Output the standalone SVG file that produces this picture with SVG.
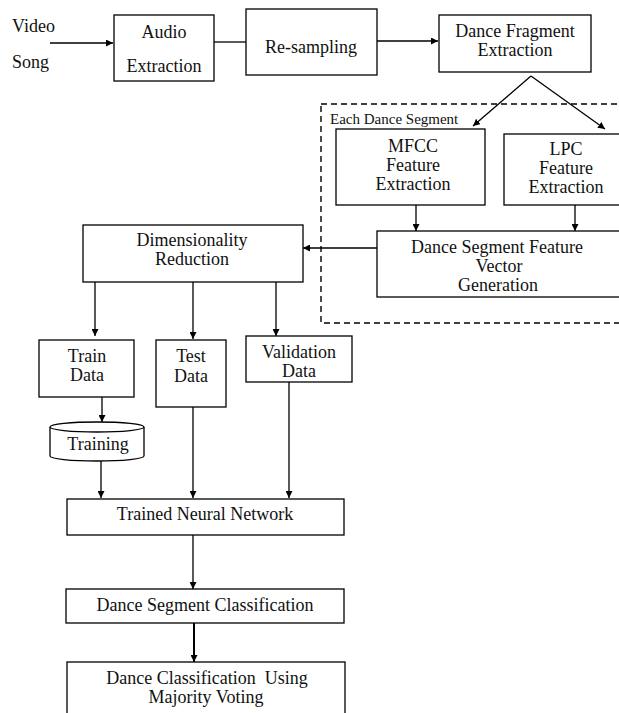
<svg xmlns="http://www.w3.org/2000/svg" width="619" height="713" viewBox="0 0 619 713">
  <defs>
    <marker id="ah" viewBox="0 0 10 10" refX="10" refY="5" markerWidth="7" markerHeight="7" markerUnits="userSpaceOnUse" orient="auto">
      <path d="M0,0 L10,5 L0,10 z" fill="#000"/>
    </marker>
    <style>
      .box { fill: #fff; stroke: #000; stroke-width: 1.3; }
      .t { font-family: "Liberation Serif", "Times New Roman", serif; font-size: 18px; fill: #111; text-anchor: middle; }
      .tl { font-family: "Liberation Serif", "Times New Roman", serif; font-size: 18px; fill: #111; }
      .small { font-family: "Liberation Serif", "Times New Roman", serif; font-size: 15px; fill: #111; }
      .c { fill: none; stroke: #000; stroke-width: 1.3; }
      .ca { fill: none; stroke: #000; stroke-width: 1.3; marker-end: url(#ah); }
    </style>
  </defs>
  <rect width="619" height="713" fill="#fff"/>

  <!-- dashed region: per-segment processing -->
  <g id="segment-region">
    <rect x="321" y="104" width="310" height="219" fill="none" stroke="#000" stroke-width="1.4" stroke-dasharray="6,4"/>
    <text class="small" x="330" y="124">Each Dance Segment</text>
  </g>

  <g id="connectors">
    <line class="ca" x1="50" y1="43" x2="113" y2="43"/>
    <line class="c" x1="214" y1="42" x2="246" y2="42"/>
    <line class="ca" x1="377" y1="41" x2="438" y2="41"/>
    <line class="ca" x1="531" y1="76" x2="473" y2="126"/>
    <line class="ca" x1="531" y1="76" x2="605" y2="129"/>
    <line class="ca" x1="416" y1="205" x2="416" y2="231"/>
    <line class="ca" x1="575" y1="205" x2="575" y2="231"/>
    <line class="ca" x1="400" y1="248" x2="303" y2="248"/>
    <line class="ca" x1="95" y1="282" x2="95" y2="336"/>
    <line class="ca" x1="193" y1="282" x2="193" y2="339"/>
    <line class="ca" x1="276" y1="282" x2="276" y2="336"/>
    <line class="ca" x1="102" y1="397" x2="102" y2="422"/>
    <line class="ca" x1="101" y1="461" x2="101" y2="498"/>
    <line class="ca" x1="193" y1="383" x2="193" y2="498"/>
    <line class="ca" x1="289" y1="382" x2="289" y2="498"/>
    <line class="ca" x1="193" y1="535" x2="193" y2="589"/>
    <line class="ca" x1="194" y1="623" x2="194" y2="662" style="stroke-width:2"/>
  </g>

  <g id="video-song">
    <text class="tl" x="12" y="32">Video</text>
    <text class="tl" x="12" y="68">Song</text>
  </g>

  <g id="audio-extraction">
    <rect class="box" x="114" y="15" width="100" height="66"/>
    <text class="t" x="164" y="38">Audio</text>
    <text class="t" x="164" y="72">Extraction</text>
  </g>

  <g id="re-sampling">
    <rect class="box" x="246" y="9" width="131" height="66"/>
    <text class="t" x="311" y="53">Re-sampling</text>
  </g>

  <g id="dance-fragment-extraction">
    <rect class="box" x="439" y="15" width="152" height="57"/>
    <text class="t" x="515" y="37">Dance Fragment</text>
    <text class="t" x="515" y="56">Extraction</text>
  </g>

  <g id="mfcc">
    <rect class="box" x="336" y="129" width="149" height="76"/>
    <text class="t" x="413" y="152">MFCC</text>
    <text class="t" x="413" y="171">Feature</text>
    <text class="t" x="413" y="190">Extraction</text>
  </g>

  <g id="lpc">
    <rect class="box" x="504" y="134" width="120" height="71"/>
    <text class="t" x="566" y="155">LPC</text>
    <text class="t" x="566" y="174">Feature</text>
    <text class="t" x="566" y="193">Extraction</text>
  </g>

  <g id="feature-vector">
    <rect class="box" x="377" y="231" width="245" height="66"/>
    <text class="t" x="497" y="253">Dance Segment Feature</text>
    <text class="t" x="499" y="272">Vector</text>
    <text class="t" x="498" y="291">Generation</text>
  </g>

  <g id="dimensionality-reduction">
    <rect class="box" x="83" y="225" width="220" height="57"/>
    <text class="t" x="192" y="246">Dimensionality</text>
    <text class="t" x="192" y="265">Reduction</text>
  </g>

  <g id="train-data">
    <rect class="box" x="39" y="340" width="95" height="57"/>
    <text class="t" x="87" y="362">Train</text>
    <text class="t" x="87" y="381">Data</text>
  </g>

  <g id="test-data">
    <rect class="box" x="156" y="340" width="70" height="67"/>
    <text class="t" x="191" y="362">Test</text>
    <text class="t" x="191" y="382">Data</text>
  </g>

  <g id="validation-data">
    <rect class="box" x="246" y="336" width="106" height="46"/>
    <text class="t" x="299" y="358">Validation</text>
    <text class="t" x="299" y="377">Data</text>
  </g>

  <g id="training">
    <path class="box" d="M50,427 L50,456 A47,5 0 0 0 144,456 L144,427 A47,5 0 0 0 50,427 Z"/>
    <path class="c" d="M50,427 A47,5 0 0 0 144,427"/>
    <text class="t" x="98" y="450">Training</text>
  </g>

  <g id="trained-neural-network">
    <rect class="box" x="67" y="499" width="277" height="36"/>
    <text class="t" x="205" y="520">Trained Neural Network</text>
  </g>

  <g id="dance-segment-classification">
    <rect class="box" x="66" y="589" width="278" height="34"/>
    <text class="t" x="205" y="611">Dance Segment Classification</text>
  </g>

  <g id="majority-voting">
    <rect class="box" x="67" y="662" width="278" height="60"/>
    <text class="t" x="207" y="684" xml:space="preserve">Dance Classification  Using</text>
    <text class="t" x="206" y="703">Majority Voting</text>
  </g>
</svg>
